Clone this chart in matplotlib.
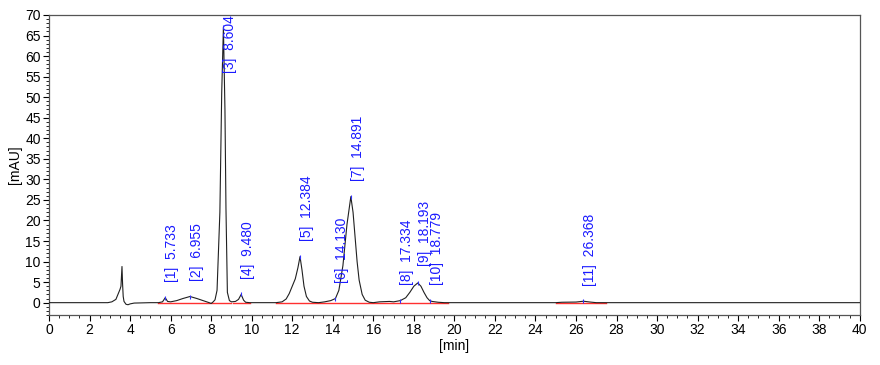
import matplotlib
matplotlib.use("Agg")
import matplotlib.pyplot as plt
from matplotlib.ticker import MultipleLocator

plt.rcParams['font.family'] = ['Liberation Sans', 'DejaVu Sans']

# Chromatogram trace (time [min], signal [mAU])
trace_t = [0, 2.9, 3.1, 3.3, 3.4, 3.5, 3.55, 3.6, 3.63, 3.66, 3.7, 3.8, 3.9, 4.0, 4.2, 5.0,
           5.4, 5.6, 5.733, 5.85, 6.0, 6.3, 6.6, 6.955, 7.3, 7.6, 7.9, 8.0, 8.1, 8.19, 8.29,
           8.43, 8.52, 8.604, 8.68, 8.73, 8.8, 8.9, 9.0, 9.2, 9.35, 9.48, 9.6, 9.7, 9.9,
           11.2, 11.5, 11.7, 11.85, 12.0, 12.15, 12.28, 12.384, 12.48, 12.58, 12.7, 12.85, 13.0, 13.3,
           13.6, 13.9, 14.13, 14.3, 14.5, 14.7, 14.891, 15.0, 15.1, 15.2, 15.3, 15.45, 15.6,
           15.8, 16.0, 16.3, 16.8, 17.0, 17.334, 17.6, 17.8, 18.0, 18.193, 18.35, 18.5, 18.65,
           18.779, 18.9, 19.2, 19.5, 25.0, 25.3, 26.0, 26.368, 26.7, 27.0, 40.0]
trace_v = [0, 0, 0.2, 0.8, 2.0, 3.2, 4.0, 8.8, 4.5, 1.5, 0.3, -0.4, -0.5, -0.3, -0.1, 0,
           0, 0.2, 1.2, 0.3, 0.2, 0.5, 1.0, 1.5, 1.0, 0.5, 0.0, -0.2, 0.2, 0.7, 3.0,
           22.0, 51.0, 67.0, 47.0, 23.0, 2.5, 0.5, 0.2, 0.3, 0.8, 2.0, 0.6, 0.1, 0,
           0, 0.2, 0.9, 2.2, 4.0, 5.8, 8.5, 11.2, 8.0, 4.0, 1.5, 0.4, 0.1, 0,
           0.2, 0.5, 1.0, 3.0, 9.0, 19.0, 25.8, 22.0, 16.0, 10.0, 5.5, 2.0, 0.6,
           0.1, 0, 0.2, 0.3, 0.2, 0.5, 1.2, 2.5, 4.0, 4.8, 4.0, 2.5, 1.2,
           0.5, 0.3, 0.1, 0, 0, 0.1, 0.15, 0.35, 0.15, 0, 0]

# Integrated peaks
peak_ids = ['1', '2', '3', '4', '5', '6', '7', '8', '9', '10', '11']
peak_rt = [5.733, 6.955, 8.604, 9.480, 12.384, 14.130, 14.891, 17.334, 18.193, 18.779, 26.368]
peak_h = [1.2, 1.5, 67.0, 2.0, 11.2, 1.0, 25.8, 0.5, 4.8, 0.5, 0.35]

# Integration baselines (start, end)
base_start = [5.4, 9.1, 11.2, 25.0]
base_end = [9.0, 9.9, 19.7, 27.5]

fig = plt.figure(figsize=(8.8, 3.65), dpi=100)
ax = fig.add_axes([0.0557, 0.137, 0.9213, 0.822])

for s, e in zip(base_start, base_end):
    ax.plot([s, e], [-0.05, -0.05], color='#ff3030', lw=1.0, zorder=2)
ax.plot(trace_t, trace_v, color='#202020', lw=0.8, zorder=3)
ax.plot(peak_rt, peak_h, ls='none', marker='|', ms=3, mew=0.8, color='#3030ff', zorder=4)

for pid, rt, h in zip(peak_ids, peak_rt, peak_h):
    txt = f'[{pid}]  {rt:.3f}'
    if pid == '3':
        ax.annotate(txt, xy=(rt, 70), xytext=(0, 0), textcoords='offset points',
                    rotation=90, ha='left', va='top', color='#1a1aff', fontsize=10)
    elif pid == '9':
        ax.annotate(txt, xy=(rt, h), xytext=(0, 12), textcoords='offset points',
                    rotation=90, ha='left', va='bottom', color='#1a1aff', fontsize=10)
    else:
        ax.annotate(txt, xy=(rt, h), xytext=(0, 11), textcoords='offset points',
                    rotation=90, ha='left', va='bottom', color='#1a1aff', fontsize=10)

ax.set_xlim(0, 40)
ax.set_ylim(-3, 70)
ax.xaxis.set_major_locator(MultipleLocator(2))
ax.xaxis.set_minor_locator(MultipleLocator(0.5))
ax.yaxis.set_major_locator(MultipleLocator(5))
ax.yaxis.set_minor_locator(MultipleLocator(1))
ax.tick_params(axis='both', which='major', direction='out', length=4, width=0.8,
               labelsize=10, colors='black', pad=2)
ax.tick_params(axis='both', which='minor', direction='out', length=2, width=0.6)
for sp in ax.spines.values():
    sp.set_color('#555555')
    sp.set_linewidth(0.9)
ax.set_xlabel('[min]', fontsize=10, labelpad=1)
ax.set_ylabel('[mAU]', fontsize=10, labelpad=2)

fig.savefig('out.png', dpi=100)
